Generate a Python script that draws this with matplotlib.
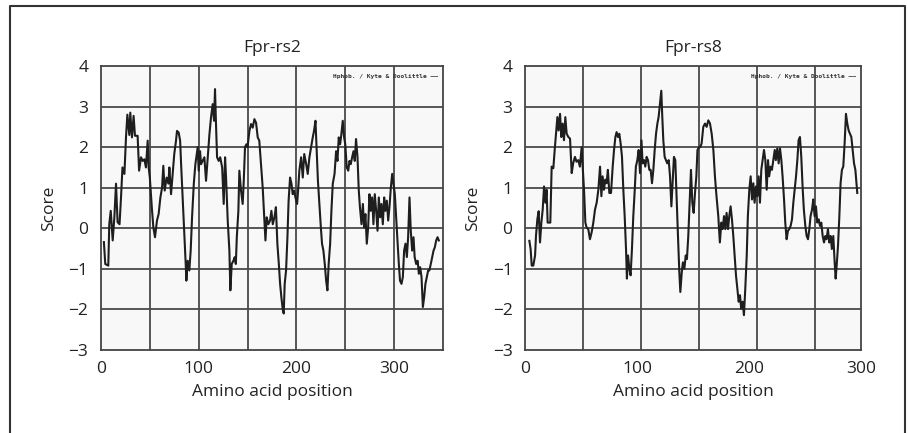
import matplotlib
matplotlib.use("Agg")
import matplotlib.pyplot as plt
from matplotlib.lines import Line2D

# Kyte & Doolittle hydrophobicity profiles
rs2_pos = [3, 4.4, 7.5, 8.5, 10, 12, 13.7, 15.4, 17, 19, 20.5, 22, 24, 25.6, 27, 29, 30,
           31.7, 33.4, 34.8, 37.5, 39, 41, 42.7, 44.4, 46, 47.8, 48.8, 50, 52, 53.6, 55.3,
           57.3, 59, 60.8, 62.5, 63.8, 65.2, 67.2, 69, 70, 71.7, 73.4, 75, 76.8, 77.8, 79.5,
           81, 82, 83.6, 85.3, 86.7, 87.4, 88.7, 90.4, 91.8, 93.2, 95, 96.6, 98, 99, 100,
           101.4, 102.4, 104, 105.8, 107.5, 109, 111, 112.6, 114.3, 115.7, 116.7, 117.7,
           118.8, 120.5, 122, 124, 125.6, 127, 128, 129.7, 131.4, 132.4, 133.8, 135.5, 136.9,
           138, 139, 140.6, 141.6, 143.3, 145, 146, 147.4, 148.8, 150, 151.9, 153.6, 155.3,
           157, 158.7, 160.4, 162, 163.8, 165.5, 167.2, 168.3, 169.6, 171.3, 173, 174.4,
           175.8, 177.5, 179, 180.5, 182, 183.3, 184.6, 186, 187, 188, 189.4, 190.8, 192,
           193.5, 194.9, 196.2, 197.6, 199, 200.7, 201.7, 203, 204.8, 206.5, 208, 210, 211.6,
           213.3, 215, 216.7, 218, 219.5, 220.8, 222, 223.5, 225, 226.2, 227.6, 229, 230.4,
           231.7, 233, 234.5, 235.8, 237.2, 239, 240.6, 242, 243.3, 244.7, 246, 247.4, 248.8,
           250, 251.5, 253, 254.3, 255.6, 257, 258.4, 259.7, 261, 262.5, 263.8, 265, 266.6,
           268, 269.3, 270.6, 272, 273.4, 274.7, 276, 277.5, 278.8, 280.2, 281.6, 283, 284.3,
           285.7, 287, 288.4, 289.8, 291, 292.5, 293.9, 295.2, 296.6, 298, 299.3, 300.7, 302,
           303.4, 304.8, 306, 307.5, 308.9, 310.2, 311.6, 313, 314.3, 315.7, 317, 318.4,
           319.8, 321, 322.5, 324, 325.3, 326.6, 328, 329.4, 330.7, 332, 333.4, 334.8, 336,
           337.5, 338.9, 340.3, 341.6, 343, 344.4, 345.7]
rs2_score = [-0.34, -0.88, -0.92, 0.1, 0.43, -0.3, 0.27, 1.1, 0.15, 0.1, 0.76, 1.5, 1.34,
             2.24, 2.8, 2.3, 2.85, 2.24, 2.77, 2.28, 2.28, 1.42, 1.75, 1.66, 1.7, 1.5, 2.16,
             1.5, 1.25, 0.52, 0.02, -0.22, 0.19, 0.35, 0.76, 1.0, 1.54, 0.93, 1.25, 1.1, 1.5,
             0.84, 1.34, 1.83, 2.16, 2.4, 2.36, 2.16, 1.58, 0.76, -0.06, -0.88, -1.29, -0.8,
             -1.04, -0.55, 0.27, 1.1, 1.58, 1.83, 2.0, 1.42, 1.9, 1.58, 1.66, 1.75, 1.17, 1.66,
             2.32, 2.73, 3.06, 2.65, 3.43, 2.57, 1.75, 1.66, 1.75, 1.5, 0.6, 1.75, 1.25, 0.19,
             -0.55, -1.53, -0.88, -0.8, -0.71, -0.88, -0.22, 0.43, 1.42, 0.93, 0.6, 1.1, 2.0,
             2.07, 2.0, 2.4, 2.57, 2.48, 2.69, 2.6, 2.24, 2.16, 1.58, 1.0, 0.19, -0.3, 0.27,
             0.1, 0.19, 0.43, 0.1, 0.27, 0.52, -0.38, -0.88, -1.37, -1.7, -2.0, -2.1, -1.37,
             -1.04, -0.22, 0.68, 1.25, 1.1, 0.84, 0.93, 0.76, 0.6, 0.93, 1.42, 1.75, 1.25,
             1.83, 1.58, 1.34, 1.75, 2.0, 2.24, 2.4, 2.65, 1.9, 1.17, 0.6, 0.02, -0.38, -0.55,
             -0.88, -1.29, -1.53, -0.88, -0.38, 0.43, 1.1, 1.34, 1.9, 1.66, 2.24, 2.07, 2.32,
             2.65, 2.24, 2.07, 1.5, 1.42, 1.66, 1.58, 1.75, 1.9, 1.66, 2.2, 1.75, 0.93, 0.52,
             0.1, 0.6, 0.02, 0.35, -0.38, 0.02, 0.84, 0.43, 0.76, 0.1, 0.84, 0.43, -0.06, 0.76,
             0.27, 0.6, 0.1, 0.76, 0.43, 0.68, 0.19, 0.52, 1.0, 1.34, 1.1, 0.84, 0.27, -0.3,
             -0.88, -1.29, -1.37, -1.2, -0.55, -0.38, -0.71, -0.22, 0.76, -0.06, -0.55, -0.22,
             -0.71, -0.88, -0.8, -1.12, -0.96, -1.2, -1.94, -1.7, -1.37, -1.2, -1.04, -1.04,
             -0.88, -0.71, -0.55, -0.47, -0.3, -0.22, -0.3]

rs8_pos = [3.9, 5, 6, 7.4, 9, 9.8, 11, 12.2, 13.4, 14.6, 15.8, 17, 18.2, 19.3, 20.2, 21.4,
           22.6, 23.8, 25.3, 26.5, 27.7, 28.9, 30, 31.3, 32.4, 33.6, 34.8, 36, 37.2, 38.7,
           40.2, 41.7, 43, 44.6, 46, 47.6, 49, 50.6, 51.5, 52.7, 53.9, 55, 56.5, 58, 59.5, 61,
           62.5, 64, 65.5, 67, 68.2, 69.3, 70.5, 71.7, 72.9, 74, 75.3, 76.8, 78.3, 79.5, 80.7,
           81.8, 83, 84.2, 85.4, 86.6, 87.8, 89, 90.2, 91, 92, 93.2, 94.3, 95.5, 96.7, 98, 99,
           100.3, 101.5, 102.7, 104, 105, 106.3, 107.4, 108.6, 109.8, 111, 112.2, 113.4,
           114.6, 115.8, 117, 118.2, 119.3, 120.5, 121.7, 122.6, 123.5, 124.7, 125.9, 127,
           128.3, 129.5, 130.7, 131.8, 133, 134.2, 135.4, 136.6, 137.8, 138.7, 140, 141,
           142.3, 143.5, 144.6, 145.8, 147, 148.2, 149.4, 150.6, 151.8, 153, 154, 155.4,
           156.5, 157.7, 159.2, 160.7, 162.2, 163.7, 165.2, 166.7, 168.2, 169.6, 171, 172.6,
           174, 175.3, 176.5, 177.7, 178.9, 180, 181.3, 182.4, 183.6, 184.8, 186, 187.2,
           188.4, 189.6, 190.8, 192, 193, 194.3, 195.5, 196.7, 198, 199, 200.3, 201.5, 202.7,
           203.9, 205, 206.3, 207.4, 208.6, 209.8, 211, 212.2, 213.4, 214.6, 215.8, 217, 218,
           219.3, 220.5, 221.7, 223, 224, 225.3, 226.5, 227.7, 228.9, 230, 231.3, 232.4,
           233.6, 234.8, 236, 237.2, 238.4, 239.6, 240.8, 242, 243.2, 244.3, 245.5, 246.7,
           248, 249, 250.3, 251.5, 252.7, 253.9, 255, 256.3, 257.4, 258.6, 259.8, 261, 262.2,
           263.4, 264.6, 265.8, 267, 268.2, 269.3, 270.5, 271.7, 272.9, 274, 275.3, 276.5,
           277.4, 278.3, 279.5, 280.7, 281.8, 283, 284.2, 285.4, 286.6, 287.8, 289, 290.2,
           291.4, 292.6, 293.8, 295, 296.7]
rs8_score = [-0.31, -0.51, -0.92, -0.92, -0.67, -0.19, 0.22, 0.42, -0.35, 0.14, 0.46, 1.03,
             0.63, 0.95, 0.14, 0.14, 0.14, 1.52, 1.48, 1.93, 2.33, 2.74, 2.41, 2.82, 2.25,
             2.58, 2.17, 2.74, 2.33, 2.25, 2.21, 1.36, 1.6, 1.76, 1.64, 1.68, 1.52, 2.0, 1.52,
             0.95, 0.14, 0.02, -0.02, -0.27, -0.1, 0.14, 0.46, 0.63, 0.95, 1.52, 0.79, 1.28,
             0.95, 1.2, 1.11, 1.44, 0.87, 0.87, 1.52, 1.93, 2.25, 2.37, 2.25, 2.33, 2.09, 1.76,
             0.95, 0.3, -0.51, -1.24, -0.67, -1.0, -1.16, -0.51, 0.3, 0.95, 1.52, 1.68, 1.93,
             1.36, 2.17, 1.6, 1.68, 1.52, 1.76, 1.68, 1.44, 1.44, 1.11, 1.44, 1.93, 2.33, 2.58,
             2.74, 3.07, 3.39, 2.74, 2.17, 1.76, 1.68, 1.6, 1.68, 1.28, 0.54, 1.11, 1.76, 1.68,
             0.71, -0.19, -1.08, -1.57, -1.08, -0.84, -1.0, -0.67, -0.76, -0.19, 0.63, 1.44,
             0.63, 0.38, 0.87, 1.28, 1.93, 2.0, 2.0, 2.09, 2.5, 2.58, 2.5, 2.66, 2.58, 2.33,
             1.93, 1.28, 0.79, 0.3, -0.35, 0.14, -0.02, 0.3, -0.02, 0.38, -0.02, 0.3, 0.54,
             0.22, -0.19, -0.67, -1.16, -1.49, -1.81, -1.65, -1.98, -1.81, -2.14, -1.49, -0.67,
             0.3, 0.95, 1.28, 0.71, 1.11, 0.63, 1.03, 0.79, 1.28, 0.63, 1.44, 1.68, 1.93, 1.68,
             0.95, 1.68, 1.28, 1.52, 1.44, 1.68, 1.93, 1.68, 1.97, 1.6, 1.97, 1.68, 1.28, 0.71,
             0.14, -0.27, -0.06, -0.02, 0.06, 0.22, 0.63, 0.95, 1.28, 1.68, 2.17, 2.25, 1.76,
             0.95, 0.46, 0.06, -0.19, -0.27, -0.02, 0.3, 0.46, 0.71, 0.3, 0.54, 0.14, 0.22,
             0.06, 0.14, -0.19, -0.35, -0.19, -0.27, -0.02, -0.35, -0.19, -0.51, -0.19, -0.84,
             -1.24, -0.92, -0.43, 0.3, 1.11, 1.44, 1.52, 2.09, 2.82, 2.58, 2.41, 2.33, 2.25,
             1.93, 1.6, 1.44, 0.87]

titles = ["Fpr-rs2", "Fpr-rs8"]
x_max = [350, 300]
x_ticks = [0, 100, 200, 300]
y_ticks = [-3, -2, -1, 0, 1, 2, 3, 4]
grid_x = [[50, 100, 150, 200, 250, 300], [52, 104, 155, 207, 259]]
grid_y = [-2, -1, 0, 1, 2, 3]
legend_text = "Hphob. / Kyte & Doolittle \u2014\u2014"

plt.rcParams['font.family'] = ['Open Sans', 'DejaVu Sans']

fig = plt.figure(figsize=(9.08, 4.33), dpi=100)
axes = [fig.add_axes([0.1112, 0.1917, 0.3767, 0.6559]),
        fig.add_axes([0.5782, 0.1917, 0.3700, 0.6559])]

series = [(rs2_pos, rs2_score), (rs8_pos, rs8_score)]
for i, ax in enumerate(axes):
    pos, score = series[i]
    ax.set_facecolor('#f8f8f8')
    ax.plot(pos, score, color='#1e1e1e', linewidth=1.5, zorder=3)
    ax.set_xlim(0, x_max[i])
    ax.set_ylim(-3, 4)
    # grid lines sit on minor ticks, some of them share a spot with labelled ticks
    ax.xaxis.remove_overlapping_locs = False
    ax.yaxis.remove_overlapping_locs = False
    ax.set_xticks(x_ticks)
    ax.set_yticks(y_ticks)
    ax.set_xticks(grid_x[i], minor=True)
    ax.set_yticks(grid_y, minor=True)
    ax.grid(which='minor', color='#4a4a4a', linewidth=1.3, zorder=1)
    ax.tick_params(which='both', length=0, labelsize=12.5, colors='#222222')
    ax.tick_params(axis='y', pad=9)
    ax.tick_params(axis='x', pad=8)
    for sp in ax.spines.values():
        sp.set_color('#444444')
        sp.set_linewidth(1.3)
    ax.set_title(titles[i], fontsize=12.5, pad=10, color='#222222')
    ax.set_xlabel("Amino acid position", fontsize=12.5, labelpad=5, color='#222222')
    ax.set_ylabel("Score", fontsize=12.5, labelpad=8, color='#222222')
    ax.text(0.985, 0.962, legend_text, transform=ax.transAxes, ha='right', va='center',
            fontsize=4.5, fontweight='bold', family='DejaVu Sans Mono', color='#333333')

# open frame around the panel
fig.add_artist(Line2D([0.011, 0.011, 0.9967, 0.9967], [0.0, 0.986, 0.986, 0.0],
                      color='#333333', linewidth=1.5, transform=fig.transFigure))

fig.savefig("out.png", dpi=100, facecolor='white')
